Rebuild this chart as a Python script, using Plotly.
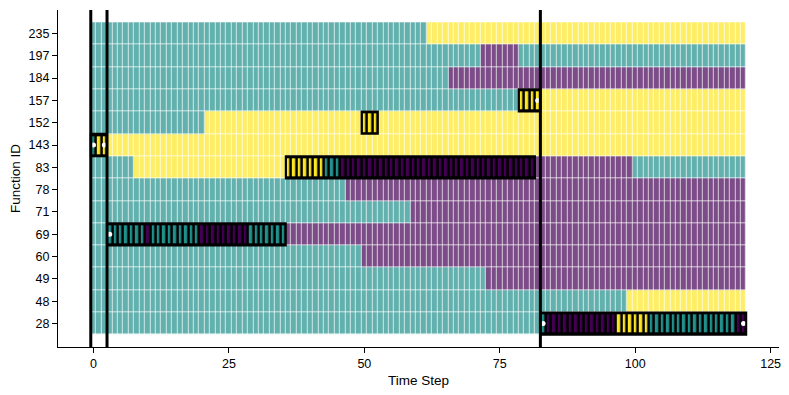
import numpy as np
import plotly.graph_objs as go

# function ids, bottom row first
func_ids = [28, 48, 49, 60, 69, 71, 78, 83, 143, 152, 157, 184, 197, 235]
n_steps = 121

# state codes: 0 = purple, 1 = teal, 2 = yellow
state_colors = ['#440154', '#21918c', '#fde725']

# background runs: (function, first time step, state) - each run lasts until the next one in the same row
bg_func = [235, 235, 197, 197, 197, 184, 184, 157, 157, 152, 152, 143, 143,
           83, 83, 83, 83, 78, 78, 71, 71, 69, 69, 60, 60, 49, 49, 48, 48, 28, 28]
bg_start = [0, 62, 0, 72, 79, 0, 66, 0, 83, 0, 21, 0, 3,
            0, 8, 36, 100, 0, 47, 0, 59, 0, 36, 0, 50, 0, 73, 0, 99, 0, 83]
bg_state = [1, 2, 1, 0, 1, 1, 0, 1, 2, 1, 2, 1, 2,
            1, 2, 0, 1, 1, 0, 1, 0, 1, 0, 1, 0, 1, 0, 1, 2, 1, 0]

# highlighted segments (boxed)
box_func = [143, 69, 83, 152, 157, 28]
box_start = [0, 3, 36, 50, 79, 83]
box_end = [2, 35, 81, 52, 82, 120]

# runs inside the highlighted segments
hl_func = [143, 143, 69, 69, 69, 69, 69, 83, 83, 83, 152, 157, 28, 28, 28, 28, 28]
hl_start = [0, 1, 3, 10, 11, 20, 29, 36, 43, 46, 50, 79, 83, 84, 97, 103, 119]
hl_state = [1, 2, 1, 0, 1, 0, 1, 2, 1, 0, 2, 2, 1, 0, 2, 1, 0]

# markers
dot_func = [143, 143, 69, 157, 28, 28]
dot_t = [0, 2, 3, 82, 83, 120]

# phase boundaries (time steps where a new phase begins)
boundaries = [0, 3, 83]

row_of = {f: i for i, f in enumerate(func_ids)}
steps = np.arange(n_steps)


def fill_runs(z, funcs, starts, states, limit=None):
    for f, s, st in zip(funcs, starts, states):
        r = row_of[f]
        nxt = [s2 for f2, s2 in zip(funcs, starts) if f2 == f and s2 > s]
        e = min(nxt) - 1 if nxt else n_steps - 1
        if limit is not None:
            e = min(e, limit[f])
        z[r][s:e + 1] = [st] * (e + 1 - s)
    return z


bg_z = [[None] * n_steps for _ in func_ids]
fill_runs(bg_z, bg_func, bg_start, bg_state)

box_limit = dict(zip(box_func, box_end))
hl_z = [[None] * n_steps for _ in func_ids]
fill_runs(hl_z, hl_func, hl_start, hl_state, limit=box_limit)
black_z = [[None if v is None else 1 for v in row] for row in hl_z]

scale = [[0, state_colors[0]], [0.5, state_colors[1]], [1, state_colors[2]]]
rows = list(range(len(func_ids)))

bg = go.Heatmap(x=steps, y=rows, z=bg_z, zmin=0, zmax=2,
                colorscale=scale, showscale=False, opacity=0.7, xgap=0.7, ygap=0.7,
                hoverinfo='skip')
blk = go.Heatmap(x=steps, y=rows, z=black_z, zmin=0, zmax=1,
                 colorscale=[[0, 'black'], [1, 'black']], showscale=False, hoverinfo='skip')
hl = go.Heatmap(x=steps, y=rows, z=hl_z, zmin=0, zmax=2,
                colorscale=scale, showscale=False, xgap=2.6, ygap=4, hoverinfo='skip')
dots = go.Scatter(x=dot_t, y=[row_of[f] for f in dot_func], mode='markers',
                  marker=dict(color='white', size=5, line=dict(width=0)),
                  hoverinfo='skip', showlegend=False)

fig = go.Figure(data=[bg, blk, hl, dots])

# box outlines around highlighted segments
for f, s, e in zip(box_func, box_start, box_end):
    r = row_of[f]
    fig.add_shape(type='rect', x0=s - 0.5, x1=e + 0.5, y0=r - 0.5, y1=r + 0.5,
                  line=dict(color='black', width=2), layer='above')

for b in boundaries:
    fig.add_shape(type='line', x0=b - 0.5, x1=b - 0.5, yref='paper', y0=0, y1=1,
                  line=dict(color='black', width=3), layer='above')

font = dict(family='Liberation Sans, Arial, sans-serif', size=12.5, color='black')

# page body has an 8px margin, so the figure is a bit smaller than the window
fig.update_layout(
    width=781, height=387,
    margin=dict(l=50, r=9.6, t=2, b=48.3),
    plot_bgcolor='white', paper_bgcolor='white',
    font=font, showlegend=False,
    xaxis=dict(range=[-6.55, 126.55], tickvals=[0, 25, 50, 75, 100, 125], automargin=False,
               showgrid=False, zeroline=False, showline=True, linecolor='black', linewidth=1.2,
               ticks='outside', ticklen=5, tickwidth=1.2, tickcolor='black',
               title=dict(text='Time Step', font=dict(size=13.5), standoff=5)),
    yaxis=dict(range=[-1.05, 14.05], tickvals=rows, automargin=False,
               ticktext=[str(f) for f in func_ids],
               showgrid=False, zeroline=False, showline=True, linecolor='black', linewidth=1.2,
               ticks='outside', ticklen=5, tickwidth=1.2, tickcolor='black',
               title=dict(text='Function ID', font=dict(size=13.5), standoff=6)),
)

fig.write_html("out.html")
